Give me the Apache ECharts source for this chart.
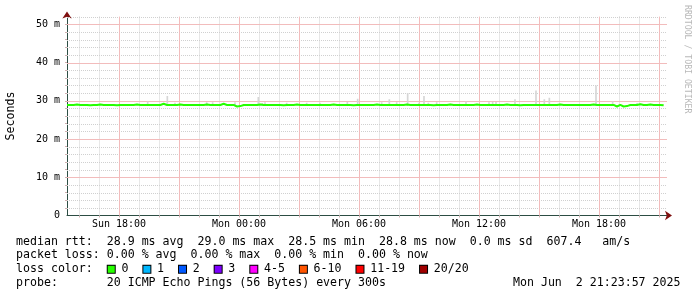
<!DOCTYPE html>
<html><head><meta charset="utf-8">
<script src="https://cdn.jsdelivr.net/npm/echarts@6/dist/echarts.min.js"></script>
<style>html,body{margin:0;padding:0;background:#fff}#c{width:697px;height:297px}</style>
</head><body><div id="c"></div>
<script>
// time in minutes since Sun 00:00
const START_MIN = 924;   // Sun 15:24
const END_MIN = 2724;    // Mon 21:24
const STEP_MIN = 10;
const Y_MAX = 52;

// median rtt (ms), one value per 10 minutes from START_MIN
const medianRtt = [
  28.9,28.9,29.0,28.9,28.9,28.9,28.8,28.9,28.9,29.0,28.9,28.9,28.9,28.9,28.8,28.9,28.9,28.9,
  28.9,28.9,29.0,28.9,28.9,28.9,28.9,28.9,28.9,28.9,29.2,28.9,28.9,28.9,28.9,29.0,28.9,28.9,
  28.9,28.9,28.9,28.9,28.9,29.0,28.9,28.9,28.9,28.9,29.2,28.9,28.9,28.9,28.5,28.6,28.9,28.9,
  28.9,28.9,28.9,29.0,28.9,28.9,28.9,28.9,28.9,28.9,28.8,28.9,28.9,28.9,29.0,28.9,28.9,28.9,
  28.9,28.9,28.9,28.9,28.9,28.9,28.9,29.0,28.9,28.9,28.9,28.9,28.9,28.8,28.9,28.9,28.9,28.9,
  28.9,28.9,29.0,28.9,28.9,28.9,28.9,28.9,28.9,28.9,28.9,29.0,28.9,28.9,28.9,28.9,28.9,28.9,
  28.9,28.8,28.9,28.9,28.9,28.9,29.0,28.9,28.9,28.9,28.9,28.9,28.9,28.9,29.0,28.9,28.9,28.9,
  28.9,28.9,28.9,28.9,28.9,29.0,28.9,28.9,28.9,28.8,28.9,28.9,28.9,28.9,28.9,28.9,28.9,28.9,
  28.9,28.9,28.9,29.0,28.9,28.9,28.9,28.9,28.9,28.9,28.9,28.9,28.9,29.0,28.9,28.9,28.9,28.9,
  28.9,28.9,28.5,28.9,28.5,28.6,28.9,28.9,28.9,29.1,28.9,28.9,29.0,28.9,28.9,28.9,28.8,28.8
];

// smoke (spread of pings): offset minutes from START_MIN, low, high (ms)
const smokeOffset = [242,301,324,419,437,504,574,586,594,659,719,759,841,872,944,967,989,1022,1056,1071,1084,1109,1197,1266,1277,1287,1344,1407,1432,1447,1587,1637,1710];
const smokeLow    = [28.7,28.6,28.7,28.7,28.7,28.5,28.7,28.7,28.7,28.7,28.6,28.7,28.7,28.6,28.7,28.6,28.7,28.6,28.7,28.6,28.7,28.7,28.6,28.7,28.7,28.7,28.6,28.6,28.6,28.6,28.6,28.6,28.7];
const smokeHigh   = [29.8,31.25,29.5,29.6,29.6,29.6,31.0,29.4,29.6,29.5,29.5,29.5,29.7,30.5,29.6,30.4,29.6,32.0,29.5,31.25,29.5,29.6,29.9,29.6,29.7,29.7,30.4,32.7,30.4,30.8,34.0,29.9,29.4];

// tick labels
const yLabelValues = [0,10,20,30,40,50];
const xLabelTimes = [1080,1440,1800,2160,2520];
const xLabelText = ['Sun 18:00','Mon 00:00','Mon 06:00','Mon 12:00','Mon 18:00'];

// grid lines: every 2 ms (major every 10), every hour (major every 3 h)
const yGrid = [];
for (let v = 2; v <= Y_MAX; v += 2) yGrid.push(v);
const xGrid = [];
for (let t = 960; t <= 2700; t += 60) xGrid.push(t);

const rttStats = ['28.9 ms avg','29.0 ms max','28.5 ms min','28.8 ms now','0.0 ms sd','607.4   am/s'];
const lossStats = ['0.00 % avg','0.00 % max','0.00 % min','0.00 % now'];
const lossLabels = ['0','1','2','3','4-5','6-10','11-19','20/20'];
const lossColors = ['#26ff00','#00b8ff','#0059ff','#7e00ff','#ff00ff','#ff5500','#ff0000','#a00000'];
const probeText = '20 ICMP Echo Pings (56 Bytes) every 300s';
const stampText = 'Mon Jun  2 21:23:57 2025';

const MONO = "'DejaVu Sans Mono', monospace";
const FS = 11.6;
const MAJ = '#f2bcbc', MIN = '#d0d0d0';

const lineData = medianRtt.map((v, i) => [START_MIN + i * STEP_MIN, v]);
const smokeData = smokeOffset.map((o, i) => [START_MIN + o, smokeLow[i], smokeHigh[i]]);

// grid line data: [x, y, isVertical, isMajor]; minor first so majors draw on top
const gridData = [];
xGrid.forEach(t => { if (t % 180 !== 0) gridData.push([t, 0, 1, 0]); });
yGrid.forEach(v => { if (v % 10 !== 0) gridData.push([START_MIN, v, 0, 0]); });
xGrid.forEach(t => { if (t % 180 === 0) gridData.push([t, 0, 1, 1]); });
yGrid.forEach(v => { if (v % 10 === 0) gridData.push([START_MIN, v, 0, 1]); });

const rich = { p: { width: 1, height: 7 }, q: { width: 6.7, height: 7 } };
let lossLine = 'loss color:  ';
lossLabels.forEach((l, i) => {
  rich['b' + i] = { width: 7, height: 7, backgroundColor: lossColors[i], borderColor: '#000', borderWidth: 1, verticalAlign: 'middle' };
  lossLine += '{p| }{b' + i + '| }{q| }' + l + (i < lossLabels.length - 1 ? '  ' : '');
});

const chart = echarts.init(document.getElementById('c'), null, { renderer: 'canvas' });

chart.setOption({
  animation: false,
  backgroundColor: '#fff',
  grid: { left: 67, right: 30, top: 16.6, bottom: 81.5, containLabel: false, outerBoundsMode: 'none' },
  xAxis: [
    { type: 'value', position: 'bottom', min: START_MIN, max: END_MIN,
      axisLine: { show: true, lineStyle: { color: '#2C4D43' } },
      axisTick: { show: true, customValues: xGrid, length: 2, lineStyle: { color: '#d0b0b0' } },
      axisLabel: { customValues: xLabelTimes, margin: 4, fontFamily: MONO, fontSize: 10, color: '#000',
        formatter: v => xLabelText[xLabelTimes.indexOf(v)] || '' },
      splitLine: { show: false } },
    { type: 'value', position: 'bottom', min: START_MIN, max: END_MIN,
      axisTick: { show: false }, axisLabel: { show: false }, splitLine: { show: false },
      axisLine: { show: true, symbol: ['none', 'arrow'], symbolSize: [7, 7], symbolOffset: [0, 5],
        lineStyle: { color: '#7f1010', width: 0.01 } } }
  ],
  yAxis: [
    { type: 'value', position: 'left', min: 0, max: Y_MAX,
      name: 'Seconds', nameLocation: 'middle', nameGap: 50, nameRotate: 90,
      nameTextStyle: { fontFamily: MONO, fontSize: FS, color: '#000' },
      axisLine: { show: true, lineStyle: { color: '#2C4D43' } },
      axisTick: { show: true, customValues: yGrid, length: 2, lineStyle: { color: '#d0b0b0' } },
      axisLabel: { customValues: yLabelValues, margin: 7, fontFamily: MONO, fontSize: 10, color: '#000',
        formatter: v => v === 0 ? '0' : v + ' m' },
      splitLine: { show: false } },
    { type: 'value', position: 'left', min: 0, max: Y_MAX,
      axisTick: { show: false }, axisLabel: { show: false }, splitLine: { show: false },
      axisLine: { show: true, symbol: ['none', 'arrow'], symbolSize: [7, 7], symbolOffset: [0, 5],
        lineStyle: { color: '#7f1010', width: 0.01 } } }
  ],
  series: [
    { type: 'custom', name: 'grid', xAxisIndex: 0, yAxisIndex: 0, z: 1, silent: true, clip: false,
      data: gridData, encode: { x: 0, y: 1 },
      renderItem: (params, api) => {
        const vert = api.value(2), major = api.value(3);
        const style = major ? { stroke: MAJ, lineWidth: 1 } : { stroke: MIN, lineWidth: 1, lineDash: [1, 1] };
        let a, b;
        if (vert) {
          a = api.coord([api.value(0), 0]); b = api.coord([api.value(0), Y_MAX]);
          const x = Math.round(a[0]) + 0.5;
          return { type: 'line', shape: { x1: x, y1: a[1], x2: x, y2: b[1] }, style: style };
        }
        a = api.coord([START_MIN, api.value(1)]); b = api.coord([END_MIN, api.value(1)]);
        const y = Math.round(a[1]) + 0.5;
        return { type: 'line', shape: { x1: a[0], y1: y, x2: b[0], y2: y }, style: style };
      } },
    { type: 'custom', name: 'smoke', xAxisIndex: 0, yAxisIndex: 0, z: 4, data: smokeData, clip: true,
      encode: { x: 0, y: [1, 2] },
      renderItem: (params, api) => {
        const x = api.value(0), lo = api.value(1), hi = api.value(2);
        const a = api.coord([x - 2.5, hi]);
        const b = api.coord([x + 2.5, lo]);
        return { type: 'rect', shape: { x: a[0], y: a[1], width: b[0] - a[0], height: b[1] - a[1] },
          style: { fill: '#d6d6d6' } };
      } },
    { type: 'line', name: 'median rtt', xAxisIndex: 0, yAxisIndex: 0, z: 5, data: lineData, step: 'end',
      showSymbol: false, symbol: 'none', lineStyle: { color: '#26ff00', width: 2 } }
  ],
  graphic: [
    { type: 'text', x: 16, y: 241.7, style: { text: 'median rtt:  ' + rttStats.join('  '), fontFamily: MONO, fontSize: FS, fill: '#000', verticalAlign: 'middle' } },
    { type: 'text', x: 16, y: 255.2, style: { text: 'packet loss: ' + lossStats.join('  '), fontFamily: MONO, fontSize: FS, fill: '#000', verticalAlign: 'middle' } },
    { type: 'text', x: 16, y: 269.3, style: { text: lossLine, rich: rich, fontFamily: MONO, fontSize: FS, fill: '#000', verticalAlign: 'middle' } },
    { type: 'text', x: 16, y: 282.8, style: { text: 'probe:       ' + probeText, fontFamily: MONO, fontSize: FS, fill: '#000', verticalAlign: 'middle' } },
    { type: 'text', x: 680.5, y: 282.8, style: { text: stampText, fontFamily: MONO, fontSize: FS, fill: '#000', align: 'right', verticalAlign: 'middle' } },
    { type: 'text', x: 687.5, y: 5, rotation: -Math.PI / 2, style: { text: 'RRDTOOL / TOBI OETIKER', fontFamily: MONO, fontSize: 8.2, fill: '#b8b8b8', align: 'left', verticalAlign: 'middle' } }
  ]
});
</script></body></html>
